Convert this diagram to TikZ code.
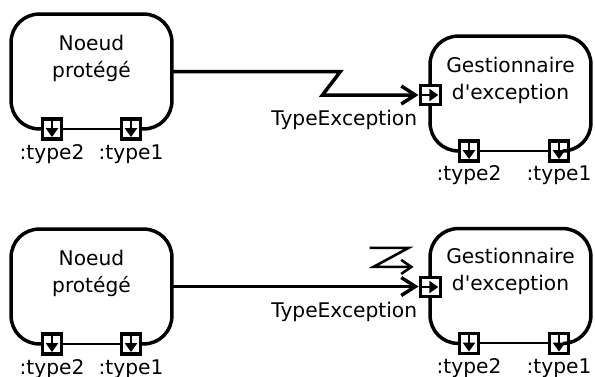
\documentclass[tikz,border=0pt]{standalone}
\usepackage{fontspec}
\setmainfont{DejaVu Sans}
\usetikzlibrary{arrows.meta,positioning,calc}

\begin{document}
\begin{tikzpicture}[x=0.5pt,y=-0.5pt,
    bloc/.style={inner sep=0pt,minimum width=80pt,minimum height=57pt},
    contour/.style={line width=1.75pt,rounded corners=14pt},
    titre/.style={align=center,font=\fontsize{10.1}{13.5}\selectfont},
    etiquette/.style={font=\fontsize{10.1}{11}\selectfont,inner sep=0.5pt},
    portbas/.style={draw,fill=white,line width=1.6pt,minimum width=9.4pt,minimum height=10pt,inner sep=0pt,
      path picture={\draw[line width=1.2pt,-{Triangle[length=4.5pt,width=6pt]}] (path picture bounding box.north) -- ([yshift=0.9pt]path picture bounding box.south);}},
    portdroite/.style={draw,fill=white,line width=1.6pt,minimum width=10pt,minimum height=9.5pt,inner sep=0pt,
      path picture={\draw[line width=1.2pt,-{Triangle[length=4.5pt,width=6pt]}] (path picture bounding box.west) -- ([xshift=-0.9pt]path picture bounding box.east);}},
    fleche/.style={line width=1.75pt,-{Straight Barb[length=7pt,width=9pt]}},
    eclair/.style={line width=1.3pt,-{Straight Barb[length=5pt,width=7pt]}},
  ]
  \useasboundingbox (0,0) rectangle (595,376);

  % Premier cas : l'exception part du noeud protege
  \node[bloc] (protA) at (91.5,71.5) {};
  \node[titre] (tprotA) at ($(protA.center)+(0,-13.5)$) {Noeud\\protégé};
  \node[bloc] (gestA) at (510.5,93.5) {};
  \node[titre] (tgestA) at ($(gestA.center)+(0,-13.5)$) {Gestionnaire\\d\textquotesingle exception};

  \node[portbas] (pa2) at ($(protA.south)+(-39.5,0)$) {};
  \node[portbas] (pa1) at ($(protA.south)+(39.5,0)$) {};
  \node[portbas] (ga2) at ($(gestA.south)+(-41.5,0)$) {};
  \node[portbas] (ga1) at ($(gestA.south)+(48.5,0)$) {};

  \node[etiquette,below=1.5pt of pa2] (lpa2) {:type2};
  \node[etiquette,below=1.5pt of pa1] (lpa1) {:type1};
  \node[etiquette,below=1pt of ga2] (lga2) {:type2};
  \node[etiquette,below=1pt of ga1] (lga1) {:type1};

  % Second cas : l'exception arrive de l'exterieur
  \node[bloc] (protB) at (91.5,286.5) {};
  \node[titre] (tprotB) at ($(protB.center)+(0,-13.5)$) {Noeud\\protégé};
  \node[bloc] (gestB) at (510.5,286) {};
  \node[titre] (tgestB) at ($(gestB.center)+(0,-14.5)$) {Gestionnaire\\d\textquotesingle exception};

  \node[portbas] (pb2) at ($(protB.south)+(-39.5,0)$) {};
  \node[portbas] (pb1) at ($(protB.south)+(39.5,0)$) {};
  \node[portbas] (gb2) at ($(gestB.south)+(-41.5,0)$) {};
  \node[portbas] (gb1) at ($(gestB.south)+(48.5,0)$) {};

  \node[etiquette,below=1.5pt of pb2] (lpb2) {:type2};
  \node[etiquette,below=1.5pt of pb1] (lpb1) {:type1};
  \node[etiquette,below=1pt of gb2] (lgb2) {:type2};
  \node[etiquette,below=1pt of gb1] (lgb1) {:type1};

  % contours des blocs, plus fins entre les ports
  \foreach \b/\g/\d in {protA/pa2/pa1,gestA/ga2/ga1,protB/pb2/pb1,gestB/gb2/gb1}{
    \draw[contour] (\g.west) -- (\b.south west) -- (\b.north west) -- (\b.north east) -- (\b.south east) -- (\d.east);
    \draw[line width=1pt] (\g.east) -- (\d.west);
  }

  \node[portdroite] (exA) at ($(gestA.west)+(0,1.5)$) {};
  \node[portdroite] (exB) at ($(gestB.west)+(0,1)$) {};

  \draw[fleche] (protA.east) -- ++(168.5,0) -- ($(exA.west)+(-96,0)$) -- (exA.west);
  \node[etiquette,below left=1.5pt and 0pt of exA] (typeA) {TypeException};

  \draw[fleche] (protB.east) -- (protB.east -| exB.west);
  \node[etiquette,below left=1.5pt and 0pt of exB] (typeB) {TypeException};
  \draw[eclair] ($(exB.north west)+(-49,-28)$) -- ++(39,0) -- ++(-35,19) -- ++(40,0);
\end{tikzpicture}
\end{document}
